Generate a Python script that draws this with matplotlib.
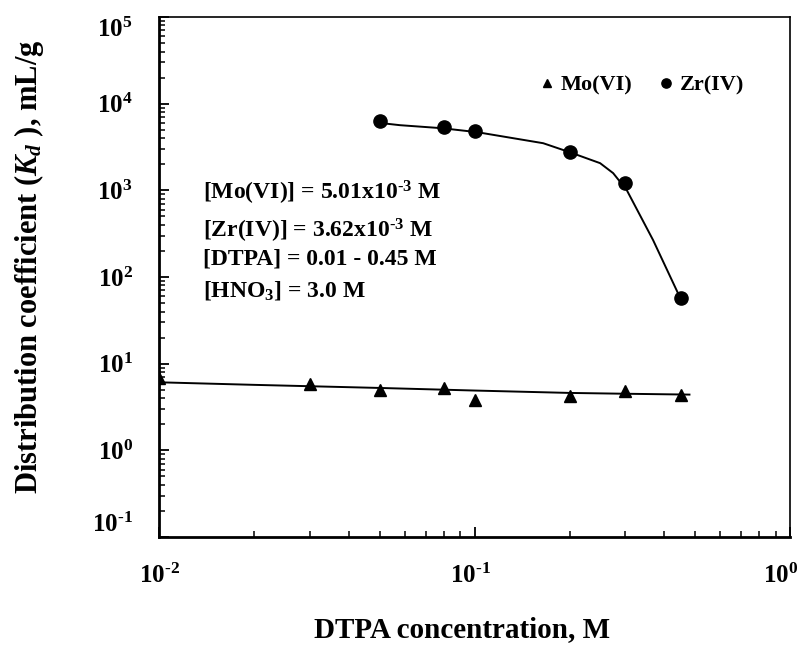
import numpy as np
import matplotlib
matplotlib.use("Agg")
import matplotlib.pyplot as plt
from matplotlib.transforms import ScaledTranslation
from matplotlib.ticker import FixedLocator, FuncFormatter

plt.rcParams['font.family'] = ['Liberation Serif']
plt.rcParams['font.weight'] = 'bold'
plt.rcParams['mathtext.fontset'] = 'custom'
plt.rcParams['mathtext.rm'] = 'Liberation Serif:bold'
plt.rcParams['mathtext.it'] = 'Liberation Serif:italic:bold'
plt.rcParams['mathtext.bf'] = 'Liberation Serif:bold'

# measured points
mo_x = [0.01, 0.03, 0.05, 0.08, 0.1, 0.2, 0.3, 0.45]
mo_y = [6.8, 5.9, 4.95, 5.3, 3.8, 4.2, 4.8, 4.4]
zr_x = [0.05, 0.08, 0.1, 0.2, 0.3, 0.45]
zr_y = [6300, 5400, 4900, 2800, 1200, 58]

# fitted curves
mo_fit_x = [0.01, 0.02, 0.05, 0.1, 0.2, 0.3, 0.48]
mo_fit_y = [6.1, 5.7, 5.25, 4.9, 4.6, 4.5, 4.4]
zr_fit_x = [0.05, 0.058, 0.079, 0.102, 0.165, 0.2, 0.25, 0.275, 0.304, 0.368, 0.448]
zr_fit_y = [6000, 5650, 5210, 4690, 3500, 2760, 2060, 1580, 1000, 267, 58]

x_ticks = [1e-2, 1e-1, 1e0]
y_ticks = [1e-1, 1e0, 1e1, 1e2, 1e3, 1e4, 1e5]


def pow_label(v, pos):
    e = int(round(np.log10(v)))
    s = str(e).replace('-', r'\text{-}')
    return r'$\mathdefault{10^{%s}}$' % s


fig = plt.figure(figsize=(8, 6.45), dpi=100)
ax = fig.add_axes([0.199, 0.1674, 0.7885, 0.8062])

ax.plot(mo_fit_x, mo_fit_y, color='black', lw=1.4)
ax.plot(zr_fit_x, zr_fit_y, color='black', lw=1.4)
ax.plot(mo_x, mo_y, '^', color='black', ms=9, ls='none', label='Mo(VI)')
ax.plot(zr_x, zr_y, 'o', color='black', ms=9.5, ls='none', label='Zr(IV)')

ax.set_xscale('log')
ax.set_yscale('log')
ax.set_xlim(1e-2, 1e0)
ax.set_ylim(1e-1, 1e5)
ax.xaxis.set_major_locator(FixedLocator(x_ticks))
ax.yaxis.set_major_locator(FixedLocator(y_ticks))
ax.xaxis.set_major_formatter(FuncFormatter(pow_label))
ax.yaxis.set_major_formatter(FuncFormatter(pow_label))

ax.tick_params(which='both', direction='in', labelsize=18)
ax.tick_params(which='major', length=7, width=1.3)
ax.tick_params(which='minor', length=4.5, width=1.1)
ax.tick_params(axis='x', which='major', pad=19)
ax.tick_params(axis='y', which='major', pad=19)
ax.tick_params(top=False, right=False, which='both')

for s in ['left', 'bottom']:
    ax.spines[s].set_linewidth(2)
for s in ['top', 'right']:
    ax.spines[s].set_linewidth(1.2)

ax.set_xlabel('DTPA concentration, M', fontsize=21, fontweight='bold')
ax.set_ylabel(r'Distribution coefficient ($K_d$ ), mL/g', fontsize=22,
              fontweight='bold')
ax.xaxis.set_label_coords(0.48, -0.152)
ax.yaxis.set_label_coords(-0.18, 0.52)

# nudge end labels the way the original layout has them
x_shift = [0, -4, -9]
for t, dx in zip(ax.xaxis.get_major_ticks(), x_shift):
    t.label1.set_transform(t.label1.get_transform() +
                           ScaledTranslation(dx / 100, 0, fig.dpi_scale_trans))
y_shift = [15, 0, 0, 0, 0, 0, -10]
for t, dy in zip(ax.yaxis.get_major_ticks(), y_shift):
    t.label1.set_transform(t.label1.get_transform() +
                           ScaledTranslation(0, dy / 100, fig.dpi_scale_trans))

lines = [r'[Mo(VI)] = 5.01x10$^{\mathdefault{\text{-}3}}$ M',
         r'[Zr(IV)] = 3.62x10$^{\mathdefault{\text{-}3}}$ M',
         r'[DTPA] = 0.01 - 0.45 M',
         r'[HNO$_{\mathdefault{3}}$] = 3.0 M']
ypos = [193, 231, 259, 290]
for t, yp in zip(lines, ypos):
    fig.text(203 / 800, 1 - yp / 645, t, fontsize=17, fontweight='bold',
             va='center', ha='left')

ax.legend(loc='upper right', bbox_to_anchor=(0.959, 0.927), ncol=2, frameon=False,
          fontsize=16, markerscale=0.7, handlelength=0.7, handletextpad=0.25,
          columnspacing=1.2)

fig.savefig('out.png', dpi=100)
